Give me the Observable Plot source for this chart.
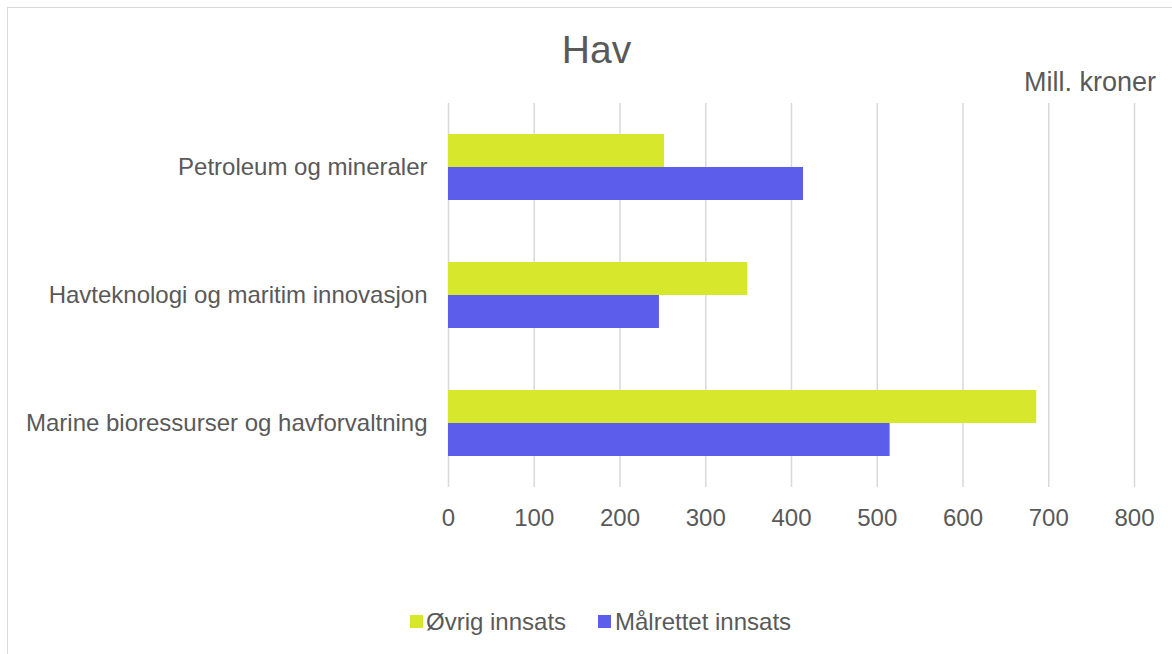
<!DOCTYPE html>
<html>
<head>
<meta charset="utf-8">
<script src="https://cdn.jsdelivr.net/npm/d3@7"></script>
<script src="https://cdn.jsdelivr.net/npm/@observablehq/plot@0.6"></script>
<style>
  html, body { margin: 0; padding: 0; background: #fff; overflow: hidden; }
  #wrap { position: relative; width: 1172px; height: 654px; overflow: hidden; font-family: "Liberation Sans", Arial, sans-serif; color: #595959; }
  #border { position: absolute; left: 7px; top: 7px; width: 1300px; height: 800px; border: 1.5px solid #d9d9d9; box-sizing: border-box; }
  #chart { position: absolute; left: 0; top: 0; }
  #title { position: absolute; left: 0; width: 1193px; top: 28px; text-align: center; font-size: 39px; line-height: 44px; }
  #unit { position: absolute; right: 16px; top: 67px; font-size: 27px; line-height: 30px; }
  .leg { position: absolute; top: 608px; font-size: 24px; line-height: 28px; white-space: nowrap; }
  .sw { position: absolute; top: 615px; width: 13px; height: 13px; }
</style>
</head>
<body>
<div id="wrap">
  <div id="border"></div>
  <div id="chart"></div>
  <div id="title">Hav</div>
  <div id="unit">Mill. kroner</div>
  <div class="sw" style="left:410px;background:#d6e72c"></div>
  <div class="leg" style="left:426px">Øvrig innsats</div>
  <div class="sw" style="left:598px;background:#5d5dec"></div>
  <div class="leg" style="left:615px">Målrettet innsats</div>
</div>
<script>
const categories = ["Petroleum og mineraler", "Havteknologi og maritim innovasjon", "Marine bioressurser og havforvaltning"];
const seriesNames = ["Øvrig innsats", "Målrettet innsats"];
const ovrig = [252, 349, 686];
const malrettet = [414, 246, 515];
const xTicks = [0, 100, 200, 300, 400, 500, 600, 700, 800];
const colors = ["#d6e72c", "#5d5dec"];

const rows = [];
categories.forEach((c, i) => {
  rows.push({category: c, series: seriesNames[0], value: ovrig[i]});
  rows.push({category: c, series: seriesNames[1], value: malrettet[i]});
});

const chart = Plot.plot({
  width: 1172,
  height: 654,
  marginLeft: 448,
  marginRight: 38,
  marginTop: 103,
  marginBottom: 167,
  style: {fontFamily: "'Liberation Sans', Arial, sans-serif", fontSize: "24px", color: "#595959", background: "transparent"},
  x: {domain: [0, 800], ticks: xTicks, tickSize: 0, tickPadding: 21, label: null, axis: "bottom"},
  y: {domain: seriesNames, axis: null, paddingInner: 0, paddingOuter: 0.91},
  fy: {domain: categories, padding: 0, axis: "left", tickSize: 0, tickPadding: 21, label: null},
  color: {domain: seriesNames, range: colors},
  marks: [
    Plot.ruleX(xTicks, {x: d => d, stroke: "#d9d9d9", strokeWidth: 1.5, strokeOpacity: 1}),
    Plot.barX(rows, {x: "value", y: "series", fy: "category", fill: "series"})
  ]
});
document.getElementById("chart").appendChild(chart);
</script>
</body>
</html>
